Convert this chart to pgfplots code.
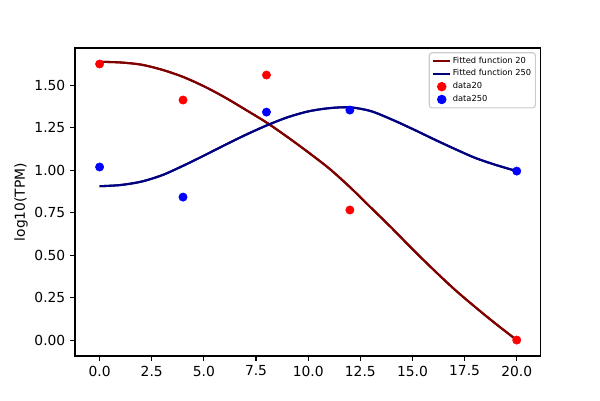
\documentclass[border=0pt]{standalone}
\usepackage{fontspec}
\setmainfont{DejaVu Sans}
\usepackage{pgfplots}
\usepackage{pgfplotstable}
\pgfplotsset{compat=1.18}
\definecolor{dred}{RGB}{128,0,0}
\definecolor{dblue}{RGB}{0,0,128}
\pgfplotsset{
  lineleg/.style={legend image code/.code={\draw[##1] (0pt,0pt) -- (12.5pt,0pt);}},
  dotleg/.style={legend image code/.code={\draw[mark repeat=2,mark phase=2,##1] plot coordinates {(0pt,0pt) (6.25pt,0pt) (12.5pt,0pt)};}},
}
\pgfplotstableread{
x y
0 1.637
1 1.633
2 1.620
3 1.590
4 1.548
5 1.493
6 1.428
7 1.355
8 1.280
9 1.195
10 1.105
11 1.010
12 0.900
13 0.780
14 0.660
15 0.535
16 0.415
17 0.300
18 0.195
19 0.095
20 0.000
}\fitA
\pgfplotstableread{
x y
0 0.905
1 0.912
2 0.932
3 0.970
4 1.025
5 1.085
6 1.147
7 1.207
8 1.262
9 1.310
10 1.345
11 1.364
12 1.369
13 1.347
14 1.298
15 1.242
16 1.183
17 1.126
18 1.072
19 1.030
20 0.994
}\fitB
\begin{document}
\begin{tikzpicture}
\path (0,0) rectangle (433.6pt,289.1pt);
\begin{axis}[
  at={(54.2pt,31.8pt)}, anchor=south west,
  scale only axis, width=336.1pt, height=222.6pt,
  xmin=-1.18, xmax=21.12, ymin=-0.094, ymax=1.718,
  xtick={0,2.5,...,20}, ytick={0,0.25,...,1.5},
  xticklabel style={/pgf/number format/.cd, fixed, fixed zerofill, precision=1},
  yticklabel style={/pgf/number format/.cd, fixed, fixed zerofill, precision=2},
  /pgf/number format/assume math mode=true,
  tick align=outside, major tick length=3.5pt,
  xtick pos=bottom, ytick pos=left,
  tick style={black, line width=0.8pt},
  axis line style={line width=0.8pt},
  ticklabel style={font=\fontsize{10}{12}\selectfont},
  label style={font=\fontsize{10}{12}\selectfont},
  ylabel={log10(TPM)},
  ylabel style={yshift=-2pt},
  legend style={at={(rel axis cs:1,1)}, anchor=north east, xshift=-3pt, yshift=-3pt,
    draw=black!20, line width=0.8pt, rounded corners=2pt, font=\fontsize{6}{7}\selectfont,
    row sep=1.2pt, inner sep=2pt, nodes={inner sep=1pt}, cells={anchor=west}},
]
\addplot[dred, line width=1.5pt, smooth, lineleg] table {\fitA};
\addlegendentry{Fitted function 20}
\addplot[dblue, line width=1.5pt, smooth, lineleg] table {\fitB};
\addlegendentry{Fitted function 250}
\addplot[only marks, mark=*, mark size=3pt, color=red, dotleg]
  coordinates {(0,1.624) (4,1.412) (8,1.559) (12,0.765) (20,0.000)};
\addlegendentry{data20}
\addplot[only marks, mark=*, mark size=3pt, color=blue, dotleg]
  coordinates {(0,1.018) (4,0.841) (8,1.341) (12,1.353) (20,0.994)};
\addlegendentry{data250}
% redraw curves above the markers, as in the reference
\addplot[dred, line width=1.5pt, smooth, forget plot] table {\fitA};
\addplot[dblue, line width=1.5pt, smooth, forget plot] table {\fitB};
\end{axis}
\end{tikzpicture}
\end{document}
